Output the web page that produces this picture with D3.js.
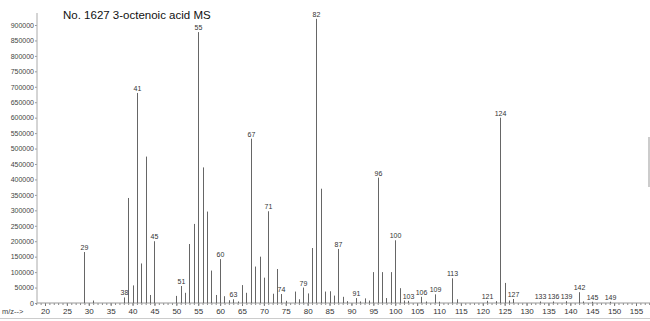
<!DOCTYPE html>
<html>
<head>
<meta charset="utf-8">
<script src="https://cdn.jsdelivr.net/npm/d3@7/dist/d3.min.js"></script>
<style>
  html, body { margin: 0; padding: 0; background: #fff; }
  svg { display: block; }
  text { font-family: "Liberation Sans Narrow", "Liberation Sans", Arial, sans-serif; }
</style>
</head>
<body>
<svg id="chart" width="650" height="321"></svg>
<script>
// ---- data ----
const title = "No. 1627 3-octenoic acid MS";
const mz = [29,31,38,39,40,41,42,43,44,45,50,51,52,53,54,55,56,57,58,59,60,61,62,63,64,65,66,67,68,69,70,71,72,73,74,75,77,78,79,80,81,82,83,84,85,86,87,88,89,91,92,93,94,95,96,97,98,99,100,101,102,103,106,107,109,110,113,114,121,123,124,125,126,127,133,136,139,142,143,145,149];
const intensity = [165000,8000,18000,340000,57000,680000,128000,474000,26000,200000,23000,55000,33000,191000,256000,877000,439000,296000,105000,26000,142000,22000,9000,12000,5000,58000,33000,532000,118000,150000,82000,297000,30000,110000,29000,7000,37000,12000,50000,31000,178000,920000,370000,37000,38000,24000,175000,20000,6000,16000,5000,15000,8000,100000,406000,100000,16000,100000,203000,48000,8000,7000,20000,5000,28000,4000,80000,12000,7000,6000,600000,65000,8000,13000,5000,5000,6000,35000,5000,4000,4000];
const labeledPeaks = [29,38,41,45,51,55,60,63,67,71,74,79,82,87,91,96,100,103,106,109,113,121,124,127,133,136,139,142,145,149];
const yTicks = [0,50000,100000,150000,200000,250000,300000,350000,400000,450000,500000,550000,600000,650000,700000,750000,800000,850000,900000];
const xTicks = [20,25,30,35,40,45,50,55,60,65,70,75,80,85,90,95,100,105,110,115,120,125,130,135,140,145,150,155];

const svg = d3.select("#chart");
const x = d3.scaleLinear().domain([20, 155]).range([45, 636]);
const y = d3.scaleLinear().domain([0, 900000]).range([303, 25]);
const axisX0 = 37, axisX1 = 650;

// title
svg.append("text").attr("x", 63).attr("y", 19)
  .attr("font-size", 11.5).attr("fill", "#111")
  .text(title);

// y axis
const yAxis = d3.axisLeft(y).tickValues(yTicks).tickSize(2).tickPadding(1)
  .tickFormat(d3.format("d"));
const gy = svg.append("g").attr("transform", `translate(${axisX0},0)`).call(yAxis);
gy.select(".domain").remove();
gy.selectAll(".tick line").attr("stroke", "#999");
gy.selectAll(".tick text").attr("font-size", 7).attr("fill", "#444");
svg.append("line").attr("x1", axisX0).attr("x2", axisX0).attr("y1", 13).attr("y2", y(0))
  .attr("stroke", "#aaa").attr("stroke-width", 1);

// x axis: minor ticks each unit
const minor = d3.range(18, 159);
const gxm = svg.append("g").attr("transform", `translate(0,${y(0)})`)
  .call(d3.axisBottom(x).tickValues(minor).tickSize(2).tickFormat(""));
gxm.select(".domain").remove();
gxm.selectAll(".tick line").attr("stroke", "#888");
const gx = svg.append("g").attr("transform", `translate(0,${y(0)})`)
  .call(d3.axisBottom(x).tickValues(xTicks).tickSize(3).tickPadding(2));
gx.select(".domain").remove();
gx.selectAll(".tick line").attr("stroke", "#777");
gx.selectAll(".tick text").attr("font-size", 8).attr("fill", "#333");
svg.append("line").attr("x1", axisX0).attr("x2", axisX1).attr("y1", y(0)).attr("y2", y(0))
  .attr("stroke", "#999").attr("stroke-width", 1);
svg.append("text").attr("x", 2).attr("y", 314).attr("font-size", 7.5).attr("fill", "#444").text("m/z-->");

// scan-edge artefacts
svg.append("line").attr("x1", 0).attr("x2", 650).attr("y1", 318.5).attr("y2", 318.5)
  .attr("stroke", "#ccc").attr("stroke-width", 1);
svg.append("line").attr("x1", 649).attr("x2", 649).attr("y1", 137).attr("y2", 187)
  .attr("stroke", "#bbb").attr("stroke-width", 1.5);

// peaks
const data = mz.map((m, i) => ({ m, v: intensity[i] }));
svg.append("g").selectAll("line").data(data).join("line")
  .attr("x1", d => Math.round(x(d.m)) + 0.5).attr("x2", d => Math.round(x(d.m)) + 0.5)
  .attr("y1", y(0)).attr("y2", d => y(d.v))
  .attr("stroke", "#666").attr("stroke-width", 1);

// peak labels
const lab = data.filter(d => labeledPeaks.includes(d.m));
svg.append("g").selectAll("text").data(lab).join("text")
  .attr("x", d => Math.round(x(d.m)) + 0.5).attr("y", d => y(d.v) - 2)
  .attr("text-anchor", "middle").attr("font-size", 7).attr("fill", "#333")
  .text(d => d.m);
</script>
</body>
</html>
